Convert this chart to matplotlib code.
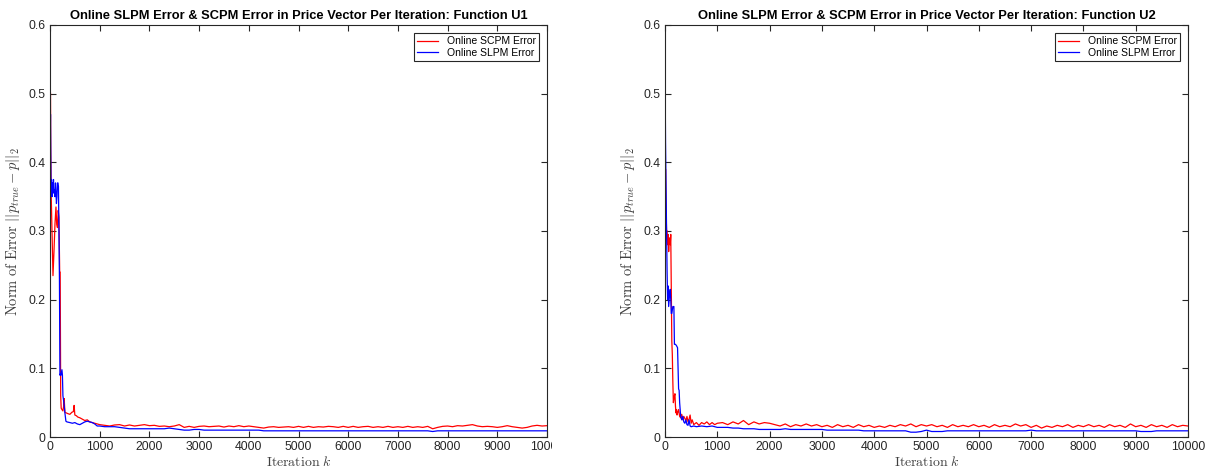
import numpy as np
import matplotlib
matplotlib.use("Agg")
import matplotlib.pyplot as plt
from matplotlib.transforms import Bbox, TransformedBbox

plt.rcParams['font.family'] = ['Liberation Sans', 'DejaVu Sans']
plt.rcParams['mathtext.fontset'] = 'cm'

# ---- Function U1 ----
u1_scpm_x = [0, 5, 10, 15, 25, 40, 60, 80, 100, 120, 135, 150, 165, 180, 195, 205, 215, 225, 240, 260,
             275, 285, 300, 330, 360, 400, 440, 470, 485, 500, 530, 560, 600, 650, 700, 750, 800, 850,
             900, 950, 1000]
u1_scpm_y = [0.34, 0.505, 0.50, 0.42, 0.35, 0.30, 0.235, 0.27, 0.31, 0.335, 0.31, 0.305, 0.33, 0.32, 0.24,
             0.24, 0.06, 0.042, 0.04, 0.038, 0.045, 0.056, 0.036, 0.035, 0.034, 0.033, 0.036, 0.037, 0.046,
             0.032, 0.031, 0.029, 0.028, 0.026, 0.024, 0.025, 0.022, 0.021, 0.020, 0.019, 0.018]
u1_scpm_tail = [0.017, 0.016, 0.0175, 0.018, 0.016, 0.0175, 0.016, 0.017, 0.018, 0.0165,
                0.017, 0.0155, 0.016, 0.015, 0.016, 0.018, 0.014, 0.0155, 0.014, 0.0155,
                0.016, 0.015, 0.0155, 0.016, 0.0145, 0.016, 0.015, 0.0165, 0.015, 0.016,
                0.015, 0.014, 0.013, 0.0145, 0.015, 0.014, 0.0145, 0.015, 0.014, 0.0155,
                0.014, 0.0155, 0.014, 0.015, 0.0145, 0.0155, 0.015, 0.014, 0.0155, 0.014,
                0.0155, 0.014, 0.015, 0.0155, 0.014, 0.015, 0.014, 0.0155, 0.014, 0.015,
                0.014, 0.0155, 0.014, 0.015, 0.014, 0.0155, 0.012, 0.014, 0.0155, 0.016,
                0.015, 0.0165, 0.016, 0.017, 0.018, 0.016, 0.015, 0.0155, 0.015, 0.014,
                0.015, 0.0165, 0.015, 0.014, 0.013, 0.014, 0.016, 0.017, 0.016, 0.0165]

u1_slpm_x = [0, 10, 20, 30, 40, 50, 60, 70, 80, 90, 100, 110, 120, 130, 140, 150, 160, 170, 180, 190,
             200, 210, 220, 240, 250, 260, 280, 300, 320, 340, 400, 450, 500, 550, 600, 650, 700, 750,
             800, 850, 900, 950, 1000]
u1_slpm_y = [0.41, 0.47, 0.36, 0.375, 0.35, 0.37, 0.36, 0.375, 0.355, 0.36, 0.35, 0.37, 0.355, 0.34, 0.35,
             0.37, 0.37, 0.365, 0.30, 0.23, 0.09, 0.092, 0.09, 0.098, 0.09, 0.06, 0.05, 0.035, 0.023, 0.022,
             0.021, 0.020, 0.021, 0.019, 0.018, 0.020, 0.022, 0.023, 0.022, 0.021, 0.019, 0.016, 0.016]
u1_slpm_tail = [0.015, 0.015, 0.015, 0.014, 0.013, 0.012, 0.012, 0.012, 0.012, 0.012,
                0.012, 0.012, 0.012, 0.013, 0.012, 0.011, 0.010, 0.010, 0.011, 0.011,
                0.010, 0.010, 0.010, 0.010, 0.010, 0.010, 0.010, 0.010, 0.010, 0.010,
                0.010, 0.010, 0.009, 0.009, 0.009, 0.009, 0.009, 0.009, 0.009, 0.009,
                0.009, 0.009, 0.009, 0.009, 0.009, 0.009, 0.009, 0.009, 0.009, 0.009,
                0.009, 0.009, 0.009, 0.009, 0.009, 0.009, 0.009, 0.009, 0.009, 0.009,
                0.009, 0.009, 0.009, 0.009, 0.009, 0.009, 0.008, 0.009, 0.009, 0.009,
                0.009, 0.009, 0.009, 0.009, 0.009, 0.009, 0.009, 0.009, 0.009, 0.009,
                0.009, 0.009, 0.009, 0.009, 0.009, 0.009, 0.009, 0.009, 0.009, 0.009]

# ---- Function U2 ----
u2_scpm_x = [0, 10, 20, 30, 40, 50, 60, 70, 80, 90, 100, 110, 120, 130, 140, 150, 160, 170, 180, 190,
             200, 210, 220, 230, 240, 260, 280, 300, 320, 340, 360, 380, 400, 420, 440, 460, 480, 500,
             520, 550, 600, 650, 700, 750, 800, 850, 900, 950, 1000]
u2_scpm_y = [0.30, 0.39, 0.33, 0.30, 0.30, 0.28, 0.295, 0.27, 0.285, 0.29, 0.28, 0.295, 0.22, 0.14, 0.12,
             0.08, 0.05, 0.055, 0.06, 0.063, 0.045, 0.035, 0.04, 0.032, 0.035, 0.04, 0.03, 0.028, 0.033,
             0.025, 0.03, 0.027, 0.024, 0.03, 0.022, 0.026, 0.032, 0.02, 0.025, 0.018, 0.021, 0.017, 0.021,
             0.019, 0.022, 0.018, 0.021, 0.018, 0.020]
u2_scpm_tail = [0.021, 0.018, 0.022, 0.019, 0.024, 0.018, 0.022, 0.019, 0.021, 0.020,
                0.018, 0.016, 0.019, 0.015, 0.018, 0.016, 0.019, 0.016, 0.018, 0.015,
                0.017, 0.014, 0.018, 0.015, 0.017, 0.014, 0.018, 0.015, 0.017, 0.014,
                0.016, 0.014, 0.017, 0.015, 0.018, 0.016, 0.019, 0.015, 0.018, 0.016,
                0.018, 0.015, 0.017, 0.014, 0.018, 0.015, 0.017, 0.015, 0.018, 0.015,
                0.017, 0.014, 0.018, 0.015, 0.017, 0.015, 0.019, 0.016, 0.018, 0.014,
                0.017, 0.013, 0.016, 0.014, 0.017, 0.015, 0.018, 0.014, 0.017, 0.015,
                0.018, 0.015, 0.017, 0.014, 0.018, 0.015, 0.017, 0.014, 0.019, 0.015,
                0.017, 0.014, 0.018, 0.015, 0.017, 0.014, 0.018, 0.015, 0.017, 0.016]

u2_slpm_x = [0, 10, 20, 30, 40, 50, 60, 70, 80, 90, 100, 110, 120, 130, 140, 150, 160, 170, 180, 190,
             200, 220, 240, 250, 260, 270, 280, 290, 300, 320, 340, 360, 380, 400, 420, 440, 460, 480,
             500, 550, 600, 700, 800, 900, 1000]
u2_slpm_y = [0.55, 0.43, 0.36, 0.30, 0.24, 0.20, 0.22, 0.19, 0.20, 0.21, 0.215, 0.20, 0.18, 0.18, 0.185,
             0.19, 0.19, 0.19, 0.135, 0.135, 0.135, 0.133, 0.13, 0.10, 0.07, 0.068, 0.05, 0.04, 0.03, 0.025,
             0.03, 0.022, 0.02, 0.025, 0.018, 0.017, 0.025, 0.016, 0.015, 0.016, 0.015, 0.016, 0.015, 0.016,
             0.014]
u2_slpm_tail = [0.014, 0.014, 0.013, 0.013, 0.012, 0.012, 0.012, 0.011, 0.011, 0.011,
                0.011, 0.011, 0.012, 0.011, 0.011, 0.011, 0.011, 0.011, 0.011, 0.011,
                0.010, 0.010, 0.010, 0.010, 0.010, 0.010, 0.010, 0.009, 0.009, 0.009,
                0.009, 0.009, 0.009, 0.009, 0.009, 0.009, 0.007, 0.007, 0.008, 0.010,
                0.008, 0.008, 0.008, 0.009, 0.009, 0.009, 0.009, 0.009, 0.009, 0.009,
                0.009, 0.009, 0.009, 0.009, 0.009, 0.009, 0.009, 0.009, 0.009, 0.010,
                0.009, 0.009, 0.009, 0.009, 0.009, 0.009, 0.009, 0.009, 0.009, 0.009,
                0.009, 0.009, 0.009, 0.009, 0.009, 0.009, 0.009, 0.009, 0.009, 0.009,
                0.008, 0.008, 0.008, 0.009, 0.009, 0.009, 0.009, 0.009, 0.009, 0.009]

tail_x = list(range(1100, 10001, 100))

panels = [
    ("Online SLPM Error & SCPM Error in Price Vector Per Iteration: Function U1",
     u1_scpm_x + tail_x, u1_scpm_y + u1_scpm_tail, u1_slpm_x + tail_x, u1_slpm_y + u1_slpm_tail),
    ("Online SLPM Error & SCPM Error in Price Vector Per Iteration: Function U2",
     u2_scpm_x + tail_x, u2_scpm_y + u2_scpm_tail, u2_slpm_x + tail_x, u2_slpm_y + u2_slpm_tail),
]

W, H = 1212, 472
fig = plt.figure(figsize=(W / 100, H / 100), dpi=100)
rects = [[50 / W, 35 / H, 497 / W, 412 / H], [665 / W, 35 / H, 523 / W, 412 / H]]

for i, (title, rx, ry, bx, by) in enumerate(panels):
    ax = fig.add_axes(rects[i])
    ax.plot(rx, ry, color='red', lw=0.9, label='Online SCPM Error')
    ax.plot(bx, by, color='blue', lw=0.9, label='Online SLPM Error')
    ax.set_xlim(0, 10000)
    ax.set_ylim(0, 0.6)
    ax.set_xticks(range(0, 10001, 1000))
    ax.set_yticks([0, 0.1, 0.2, 0.3, 0.4, 0.5, 0.6])
    ax.set_yticklabels(['0', '0.1', '0.2', '0.3', '0.4', '0.5', '0.6'])
    ax.tick_params(direction='in', top=True, right=True, length=4, width=0.8,
                   labelsize=8.8, colors='#262626', pad=3)
    for s in ax.spines.values():
        s.set_color('#262626')
        s.set_linewidth(0.8)
    ax.set_title(title, fontsize=9.3, fontweight='bold', pad=4)
    ax.set_xlabel(r'$\mathrm{Iteration}\ k$', fontsize=10, color='#404040', labelpad=1.5)
    ax.set_ylabel(r'$\mathrm{Norm\ of\ Error}\ ||p_{true} - p||_2$', fontsize=10.5,
                  color='#404040', labelpad=5)
    leg = ax.legend(loc='upper right', fontsize=7.5, fancybox=False, framealpha=1,
                    edgecolor='#262626', handlelength=2.0, borderpad=0.3, labelspacing=0.15,
                    borderaxespad=0.8)
    leg.get_frame().set_linewidth(0.8)
    if i == 0:
        clip = TransformedBbox(Bbox([[0, 0], [552 / W, 1]]), fig.transFigure)
        for t in ax.xaxis.get_major_ticks():
            t.label1.set_clip_box(clip)
            t.label1.set_clip_on(True)

fig.savefig('out.png', dpi=100)
